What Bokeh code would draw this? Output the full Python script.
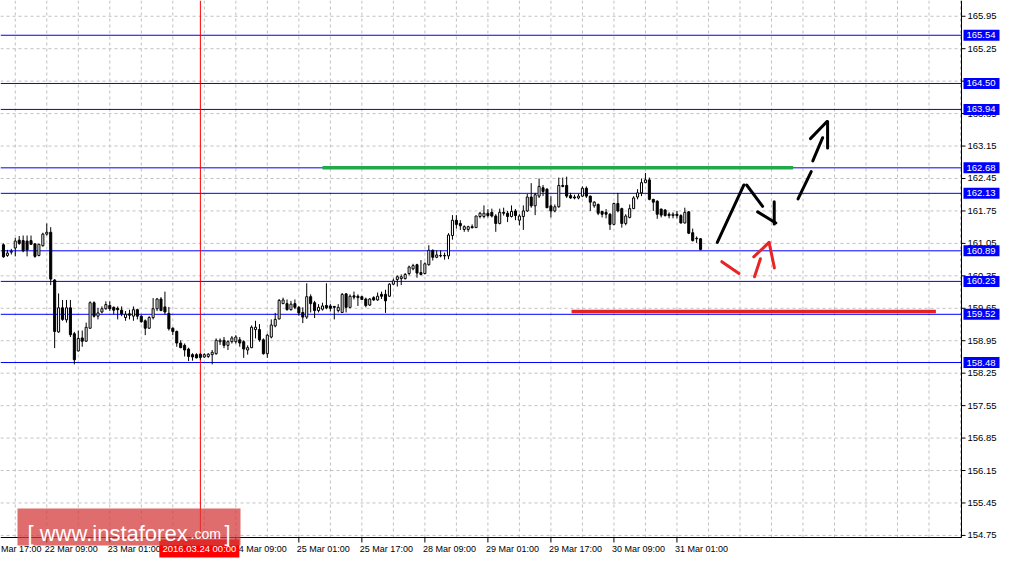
from bokeh.plotting import figure
from bokeh.models import Range1d, ColumnDataSource
from bokeh.core.properties import value
from bokeh.embed import file_html
from bokeh.resources import INLINE

# ---------------- data ----------------
# hourly bars, index counted in trading hours from 21 Mar 17:00 (index 0)
bar_index = list(range(5, 183))
open_ = [161.02, 160.79, 160.86, 160.95, 161.12, 161.11, 161.10, 161.11, 161.04, 160.79,
         161.00, 161.25, 161.29, 160.26, 159.14, 159.66, 159.40, 159.66, 159.10, 158.73,
         159.01, 158.94, 159.22, 159.77, 159.48, 159.57, 159.64, 159.71, 159.67, 159.65,
         159.61, 159.45, 159.53, 159.48, 159.62, 159.48, 159.38, 159.22, 159.45, 159.64,
         159.85, 159.68, 159.54, 159.22, 159.15, 158.90, 158.85, 158.77, 158.65, 158.65,
         158.66, 158.60, 158.61, 158.65, 158.67, 158.93, 158.96, 158.85, 158.93, 158.93,
         158.97, 158.93, 158.75, 158.80, 159.19, 159.19, 158.97, 158.67, 159.03, 159.27,
         159.42, 159.75, 159.75, 159.62, 159.75, 159.67, 159.56, 159.46, 159.90, 159.77,
         159.60, 159.63, 159.71, 159.70, 159.69, 159.60, 159.56, 159.96, 159.67, 159.92,
         159.91, 159.90, 159.85, 159.72, 159.88, 159.83, 159.95, 159.95, 159.91, 160.17,
         160.27, 160.29, 160.29, 160.40, 160.50, 160.59, 160.42, 160.40, 160.59, 160.90,
         160.75, 160.79, 160.79, 160.78, 161.22, 161.55, 161.48, 161.35, 161.35, 161.41,
         161.39, 161.63, 161.63, 161.70, 161.72, 161.64, 161.48, 161.72, 161.70, 161.63,
         161.75, 161.55, 161.63, 161.75, 162.05, 161.86, 162.07, 162.25, 162.22, 161.86,
         161.75, 161.84, 162.30, 162.30, 162.08, 162.05, 162.03, 162.07, 162.24, 162.07,
         161.86, 161.89, 161.74, 161.72, 161.68, 161.46, 161.91, 161.80, 161.48, 161.61,
         161.80, 162.05, 162.14, 162.36, 162.42, 162.00, 161.96, 161.79, 161.77, 161.68,
         161.65, 161.68, 161.65, 161.49, 161.73, 161.28, 161.16, 161.15]
high = [161.05, 160.91, 160.93, 161.17, 161.21, 161.22, 161.22, 161.22, 161.05, 161.04,
        161.28, 161.48, 161.40, 160.28, 159.97, 159.83, 159.83, 159.83, 159.14, 159.17,
        159.17, 159.34, 159.80, 159.80, 159.66, 159.69, 159.80, 159.80, 159.69, 159.69,
        159.69, 159.59, 159.62, 159.69, 159.64, 159.50, 159.41, 159.48, 159.87, 159.87,
        159.89, 160.01, 159.68, 159.24, 159.17, 158.96, 158.89, 158.80, 158.68, 158.68,
        158.68, 158.68, 158.68, 158.75, 159.00, 159.00, 159.03, 158.96, 159.05, 159.07,
        159.03, 158.96, 158.85, 159.28, 159.38, 159.31, 159.00, 159.10, 159.41, 159.55,
        159.85, 159.88, 159.84, 159.81, 159.84, 159.70, 159.67, 160.19, 159.95, 159.81,
        159.74, 159.77, 160.19, 159.74, 159.70, 159.74, 159.98, 159.98, 159.95, 160.01,
        159.95, 159.92, 159.88, 159.87, 159.91, 159.99, 160.01, 160.05, 160.19, 160.29,
        160.36, 160.38, 160.41, 160.57, 160.61, 160.61, 160.69, 160.64, 161.01, 160.92,
        160.90, 160.90, 160.85, 161.27, 161.66, 161.66, 161.55, 161.44, 161.43, 161.46,
        161.65, 161.73, 161.87, 161.79, 161.80, 161.68, 161.80, 161.82, 161.75, 161.87,
        161.79, 161.68, 161.87, 162.12, 162.35, 162.14, 162.45, 162.31, 162.24, 162.07,
        161.89, 162.47, 162.47, 162.49, 162.14, 162.10, 162.12, 162.28, 162.28, 162.08,
        161.96, 161.91, 161.75, 161.79, 161.70, 161.93, 162.14, 161.82, 161.68, 161.89,
        162.07, 162.22, 162.45, 162.57, 162.47, 162.01, 161.98, 161.80, 161.79, 161.72,
        161.72, 161.75, 161.68, 161.82, 161.75, 161.37, 161.20, 161.16]
low = [160.74, 160.76, 160.81, 160.77, 161.02, 160.86, 160.77, 161.02, 160.74, 160.77,
       160.98, 161.22, 160.15, 158.79, 159.12, 159.38, 159.34, 159.03, 158.44, 158.72,
       158.82, 158.93, 159.21, 159.45, 159.41, 159.54, 159.62, 159.59, 159.52, 159.41,
       159.48, 159.38, 159.41, 159.38, 159.41, 159.34, 159.07, 159.21, 159.41, 159.59,
       159.59, 159.52, 159.17, 159.07, 158.82, 158.79, 158.61, 158.51, 158.52, 158.57,
       158.54, 158.58, 158.58, 158.44, 158.65, 158.86, 158.79, 158.75, 158.89, 158.89,
       158.82, 158.58, 158.65, 158.79, 159.00, 158.93, 158.65, 158.58, 159.00, 159.24,
       159.41, 159.74, 159.60, 159.60, 159.63, 159.49, 159.33, 159.42, 159.56, 159.44,
       159.56, 159.60, 159.63, 159.58, 159.41, 159.56, 159.55, 159.56, 159.65, 159.84,
       159.70, 159.83, 159.67, 159.70, 159.81, 159.81, 159.85, 159.55, 159.90, 160.15,
       160.12, 160.15, 160.27, 160.36, 160.47, 160.31, 160.36, 160.38, 160.57, 160.68,
       160.73, 160.75, 160.70, 160.71, 161.13, 161.37, 161.34, 161.30, 161.30, 161.37,
       161.39, 161.59, 161.59, 161.61, 161.61, 161.30, 161.46, 161.65, 161.51, 161.61,
       161.55, 161.44, 161.34, 161.73, 161.82, 161.66, 162.03, 162.07, 161.81, 161.61,
       161.72, 161.82, 162.26, 162.03, 162.01, 162.00, 162.00, 162.05, 162.03, 161.75,
       161.82, 161.66, 161.61, 161.59, 161.34, 161.44, 161.72, 161.39, 161.44, 161.59,
       161.79, 162.00, 162.07, 162.35, 161.98, 161.75, 161.58, 161.61, 161.63, 161.59,
       161.59, 161.59, 161.48, 161.48, 161.25, 161.09, 161.06, 160.90]
close = [160.76, 160.84, 160.88, 161.10, 161.05, 160.89, 160.91, 161.03, 160.77, 161.03,
         161.25, 161.29, 160.28, 159.15, 159.66, 159.41, 159.66, 159.08, 158.54, 159.00,
         158.94, 159.24, 159.77, 159.48, 159.55, 159.64, 159.73, 159.64, 159.61, 159.62,
         159.53, 159.52, 159.50, 159.62, 159.48, 159.36, 159.22, 159.45, 159.64, 159.85,
         159.60, 159.57, 159.21, 159.15, 158.90, 158.80, 158.75, 158.61, 158.60, 158.58,
         158.59, 158.65, 158.66, 158.70, 158.96, 158.96, 158.85, 158.93, 159.01, 159.03,
         158.90, 158.77, 158.80, 159.24, 159.24, 158.97, 158.67, 159.07, 159.29, 159.41,
         159.82, 159.83, 159.62, 159.74, 159.67, 159.55, 159.46, 159.90, 159.75, 159.60,
         159.67, 159.70, 159.66, 159.65, 159.67, 159.67, 159.95, 159.67, 159.91, 159.89,
         159.88, 159.84, 159.71, 159.85, 159.83, 159.91, 159.91, 159.81, 160.17, 160.24,
         160.33, 160.33, 160.38, 160.54, 160.57, 160.41, 160.38, 160.61, 160.90, 160.75,
         160.80, 160.78, 160.78, 161.23, 161.55, 161.46, 161.43, 161.41, 161.41, 161.39,
         161.64, 161.70, 161.70, 161.65, 161.64, 161.48, 161.72, 161.70, 161.63, 161.74,
         161.65, 161.64, 161.75, 162.05, 161.86, 162.10, 162.28, 162.17, 161.82, 161.75,
         161.84, 162.30, 162.28, 162.07, 162.03, 162.03, 162.07, 162.24, 162.07, 161.94,
         161.94, 161.70, 161.68, 161.68, 161.46, 161.91, 161.75, 161.48, 161.64, 161.80,
         162.03, 162.14, 162.36, 162.42, 162.00, 161.94, 161.68, 161.66, 161.65, 161.65,
         161.68, 161.65, 161.49, 161.72, 161.27, 161.11, 161.15, 160.92]

levels = [165.54, 164.50, 163.94, 162.68, 162.13, 160.89, 160.23, 159.52, 158.48]
price_ticks = [154.75, 155.45, 156.15, 156.85, 157.55, 158.25, 158.95, 159.65, 160.35,
               161.05, 161.75, 162.45, 163.15, 163.85, 164.55, 165.25, 165.95]
time_tick_bars = [0, 16, 32, 48, 64, 80, 96, 112, 128, 144, 160, 176]
time_tick_labels = ["21 Mar 17:00", "22 Mar 09:00", "23 Mar 01:00", "23 Mar 17:00",
                    "24 Mar 09:00", "25 Mar 01:00", "25 Mar 17:00", "28 Mar 09:00",
                    "29 Mar 01:00", "29 Mar 17:00", "30 Mar 09:00", "31 Mar 01:00"]
grid_bars = list(range(8, 249, 8))
cursor_bar = 55
cursor_text = "2016.03.24 00:00"

resist_price, resist_from, resist_to = 162.68, 86.0, 205.5
support_price, support_from, support_to = 159.58, 149.25, 241.75

black_paths_x = [[186.25, 193.0], [193.7, 197.75], [200.7, 200.7], [196.5, 201.1],
                 [206.75, 210.1], [210.5, 213.0], [209.9, 214.1], [214.25, 214.25]]
black_paths_y = [[161.07, 162.31], [162.31, 161.85], [161.95, 161.47], [161.73, 161.49],
                 [162.01, 162.60], [162.83, 163.33], [163.31, 163.68], [163.68, 163.11]]
red_paths_x = [[187.4, 191.75], [195.7, 197.2], [195.5, 199.4], [199.4, 200.75]]
red_paths_y = [[160.655, 160.40], [160.33, 160.72], [160.76, 161.07], [161.07, 160.52]]

# ---------------- geometry ----------------
W, H = 1007, 561          # whole canvas
CW, CH = 961, 537         # chart area (price pane) in pixels
X0, X1 = 4.25, 248.25     # bars shown in price pane
Y0, Y1 = 154.705, 166.29  # prices shown in price pane
BX = (X1 - X0) / CW       # bars per pixel
PY = (Y1 - Y0) / CH       # price per pixel
XL = X0                   # canvas left edge in bars

p = figure(width=W, height=H,
           x_range=Range1d(XL, X0 + W * BX), y_range=Range1d(Y1 - H * PY, Y1),
           x_axis_location=None, y_axis_location=None, toolbar_location=None,
           output_backend="svg", min_border=0, min_border_left=0, min_border_right=0,
           min_border_top=0, min_border_bottom=0)
p.outline_line_color = None
p.background_fill_color = "white"
p.border_fill_color = "white"
p.grid.grid_line_color = None

FONT = value("Liberation Sans")

# grid
p.segment(x0=grid_bars, y0=[Y0] * len(grid_bars), x1=grid_bars, y1=[Y1] * len(grid_bars),
          line_color="#C0C0C0", line_width=1, line_dash="3 3")
p.segment(x0=[X0] * len(price_ticks), y0=price_ticks, x1=[X1] * len(price_ticks), y1=price_ticks,
          line_color="#C0C0C0", line_width=1, line_dash="3 3")

# level lines
p.segment(x0=[X0] * len(levels), y0=levels, x1=[X1] * len(levels), y1=levels,
          line_color="#0000FF", line_width=1)

# cursor line
p.segment(x0=[cursor_bar], y0=[Y0], x1=[cursor_bar], y1=[Y1], line_color="#FF0000", line_width=1)

# candles
up = [i for i in range(len(bar_index)) if close[i] >= open_[i]]
dn = [i for i in range(len(bar_index)) if close[i] < open_[i]]
src = ColumnDataSource(dict(x=bar_index, h=high, l=low))
p.segment(x0="x", y0="h", x1="x", y1="l", source=src, line_color="black", line_width=1)
for idx, fill in ((up, "white"), (dn, "black")):
    s = ColumnDataSource(dict(
        x=[bar_index[i] for i in idx],
        top=[max(open_[i], close[i]) for i in idx],
        bottom=[min(open_[i], close[i]) for i in idx]))
    p.vbar(x="x", top="top", bottom="bottom", width=0.52, source=s,
           fill_color=fill, line_color="black", line_width=1)

# green resistance / red support
p.segment(x0=[resist_from], y0=[resist_price], x1=[resist_to], y1=[resist_price],
          line_color="#22AA4A", line_width=3.5)
p.segment(x0=[support_from], y0=[support_price], x1=[support_to], y1=[support_price],
          line_color="#E52222", line_width=3.5)

# hand drawn arrows
p.multi_line(xs=black_paths_x, ys=black_paths_y, line_color="black", line_width=3, line_cap="round")
p.multi_line(xs=red_paths_x, ys=red_paths_y, line_color="#E82424", line_width=3, line_cap="round")

# ---- price axis (right) ----
p.segment(x0=[X1], y0=[Y0], x1=[X1], y1=[Y1], line_color="black", line_width=1)
p.segment(x0=[X1] * len(price_ticks), y0=price_ticks,
          x1=[X1 + 4 * BX] * len(price_ticks), y1=price_ticks, line_color="black", line_width=1)
p.text(x=[X1 + 6 * BX] * len(price_ticks), y=price_ticks, text=[f"{t:.2f}" for t in price_ticks],
       text_font=FONT, text_font_size="9.5px", text_color="black",
       text_align="left", text_baseline="middle")

# level price boxes
p.quad(left=[X1 + 2 * BX] * len(levels), right=[X1 + 38 * BX] * len(levels),
       bottom=[lv - 5.5 * PY for lv in levels], top=[lv + 5.5 * PY for lv in levels],
       fill_color="#0000FF", line_color=None)
p.text(x=[X1 + 5 * BX] * len(levels), y=levels, text=[f"{lv:.2f}" for lv in levels],
       text_font=FONT, text_font_size="9.5px", text_color="white",
       text_align="left", text_baseline="middle")

# ---- time axis (bottom) ----
p.segment(x0=[X0], y0=[Y0], x1=[X1], y1=[Y0], line_color="black", line_width=1)
p.segment(x0=time_tick_bars, y0=[Y0] * len(time_tick_bars), x1=time_tick_bars,
          y1=[Y0 - 5 * PY] * len(time_tick_bars), line_color="black", line_width=1)
# a label whose tick lies left of the canvas shows only the part inside it
lab_x, lab_t = [], []
for b, t in zip(time_tick_bars, time_tick_labels):
    if b - 2 * BX < XL:
        lab_x.append(XL + 0.5 * BX)
        lab_t.append(t.split(" ", 1)[1])
    else:
        lab_x.append(b - 2 * BX)
        lab_t.append(t)
p.text(x=lab_x, y=[Y0 - 11 * PY] * len(lab_x), text=lab_t, text_font=FONT,
       text_font_size="9px", text_color="black", text_align="left", text_baseline="middle")

# cursor date box
p.quad(left=[cursor_bar - 41 * BX], right=[cursor_bar + 39 * BX],
       top=[Y0 - 2 * PY], bottom=[Y0 - 20 * PY], fill_color="#FF0000", line_color=None)
p.text(x=[cursor_bar - 1 * BX], y=[Y0 - 11 * PY], text=[cursor_text], text_font=FONT,
       text_font_size="9.5px", text_color="white", text_align="center", text_baseline="middle")

# watermark
p.quad(left=[X0 + 17 * BX], right=[X0 + 240 * BX], top=[Y0 + 29 * PY], bottom=[Y0 - 8 * PY],
       fill_color="#D43C3C", fill_alpha=0.75, line_color=None)
base = Y0 + 4 * PY
p.text(x=[X0 + 27 * BX], y=[base], text=["[ www.instaforex"], text_font=FONT,
       text_font_size="22px", text_color="white", text_align="left", text_baseline="alphabetic")
p.text(x=[X0 + 190 * BX], y=[base], text=[".com"], text_font=FONT,
       text_font_size="14px", text_color="white", text_align="left", text_baseline="alphabetic")
p.text(x=[X0 + 224 * BX], y=[base], text=["]"], text_font=FONT,
       text_font_size="22px", text_color="white", text_align="left", text_baseline="alphabetic")

open("out.html", "w").write(file_html(p, INLINE))
